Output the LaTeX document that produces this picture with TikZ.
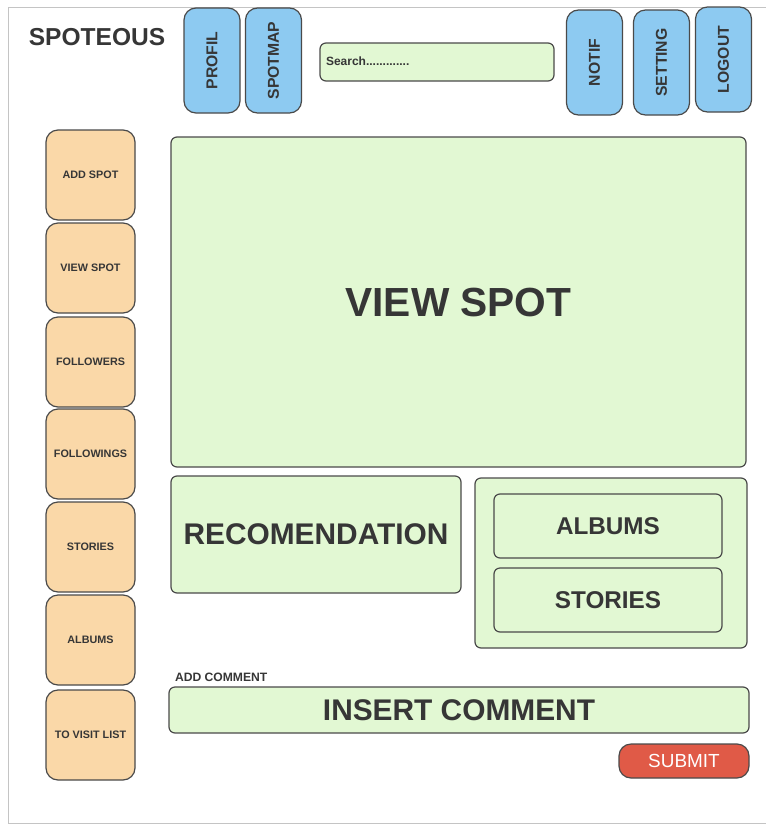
\documentclass[tikz,border=0pt]{standalone}
\usepackage{fontspec}
\setmainfont{Liberation Sans}
\definecolor{edge}{HTML}{4A4A4A}
\definecolor{ink}{HTML}{363636}
\definecolor{navblue}{HTML}{8DCAF1}
\definecolor{sidepeach}{HTML}{FAD8A8}
\definecolor{panelgreen}{HTML}{E2F8D3}
\definecolor{submitred}{HTML}{E05A47}
\definecolor{framegrey}{HTML}{C4C4C4}
\begin{document}
\begin{tikzpicture}[x=0.75pt,y=-0.75pt,
  every node/.style={inner sep=0pt, outer sep=0pt},
  ui/.style={draw=edge, line width=0.9pt, text=ink, font=\bfseries},
  navbtn/.style={ui, fill=navblue, rounded corners=9pt, rotate=90,
    minimum width=78.75pt, minimum height=42pt, font=\bfseries\fontsize{11.8}{12}\selectfont},
  sidebtn/.style={ui, fill=sidepeach, rounded corners=9pt,
    minimum width=66.75pt, minimum height=67.5pt, font=\bfseries\fontsize{8.1}{9}\selectfont},
  panel/.style={ui, fill=panelgreen, rounded corners=4.5pt},
]
\useasboundingbox (0,0) rectangle (766,825);

% page frame
\draw[framegrey, line width=0.6pt] (790,7) -- (8,7) -- (8,823) -- (790,823);

% header
\node[text=ink, font=\bfseries\fontsize{18.4}{20}\selectfont] (brand) at (97,37) {SPOTEOUS};
\node[navbtn] (profil)  at (212,60.5)   {PROFIL};
\node[navbtn] (spotmap) at (273.5,60.5) {SPOTMAP};
\node[panel, minimum width=175.5pt, minimum height=28.5pt] (search) at (437,62) {};
\node[anchor=west, text=ink, font=\bfseries\fontsize{9}{10}\selectfont] (searchtext) at (326,61) {Search.............};
\node[navbtn] (notif)   at (594.5,62.5) {NOTIF};
\node[navbtn] (setting) at (661.5,62.5) {SETTING};
\node[navbtn] (logout)  at (723.5,59.5) {LOGOUT};

% side menu
\node[sidebtn] (addspot)    at (90.5,175) {ADD SPOT};
\node[sidebtn] (viewspotbtn) at (90.5,268) {VIEW SPOT};
\node[sidebtn] (followers)  at (90.5,362) {FOLLOWERS};
\node[sidebtn] (followings) at (90.5,454) {FOLLOWINGS};
\node[sidebtn] (storiesbtn) at (90.5,547) {STORIES};
\node[sidebtn] (albumsbtn)  at (90.5,640) {ALBUMS};
\node[sidebtn] (visitlist)  at (90.5,735) {TO VISIT LIST};

% content panels
\node[panel, minimum width=431.25pt, minimum height=247.5pt,
  font=\bfseries\fontsize{30.5}{32}\selectfont] (viewspot) at (458.5,302) {VIEW SPOT};
\node[panel, minimum width=217.5pt, minimum height=87.75pt,
  font=\bfseries\fontsize{22.4}{24}\selectfont] (recom) at (316,534.5) {RECOMENDATION};
\node[panel, minimum width=204pt, minimum height=127.5pt] (media) at (611,563) {};
\node[panel, minimum width=171pt, minimum height=48pt,
  font=\bfseries\fontsize{18.2}{20}\selectfont] (albums) at (608,526) {ALBUMS};
\node[panel, minimum width=171pt, minimum height=48pt,
  font=\bfseries\fontsize{18.2}{20}\selectfont] (stories) at (608,600) {STORIES};

% comment area
\node[anchor=west, text=ink, font=\bfseries\fontsize{9.1}{10}\selectfont] (addcomment) at (175,677) {ADD COMMENT};
\node[panel, minimum width=435pt, minimum height=34.5pt,
  font=\bfseries\fontsize{22.4}{24}\selectfont] (comment) at (459,710) {INSERT COMMENT};
\node[draw=edge, line width=0.9pt, fill=submitred, rounded corners=9pt,
  minimum width=97.5pt, minimum height=25.5pt, text=white,
  font=\fontsize{14.2}{16}\selectfont] (submit) at (684,761) {SUBMIT};
\end{tikzpicture}
\end{document}
